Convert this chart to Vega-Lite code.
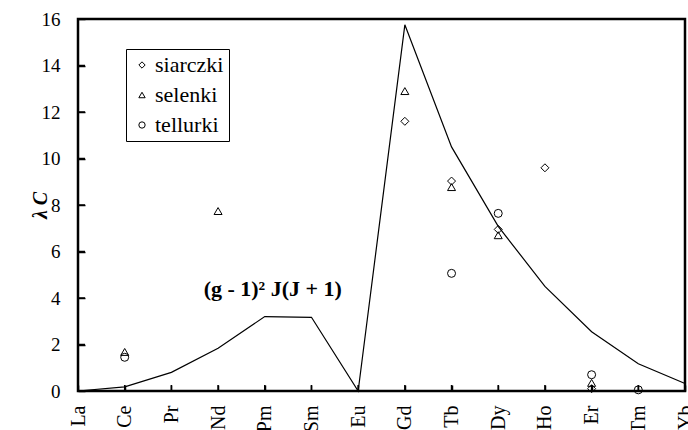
{
  "$schema": "https://vega.github.io/schema/vega-lite/v6.json",
  "width": 607,
  "height": 372,
  "autosize": {"type": "none"},
  "padding": {"left": 78, "top": 19, "right": 3, "bottom": 39},
  "background": "white",
  "config": {
    "view": {"stroke": "black", "strokeWidth": 2.5},
    "font": "Liberation Serif",
    "style": {
      "guide-label": {"font": "Liberation Serif", "fill": "black"},
      "guide-title": {"font": "Liberation Serif", "fill": "black"}
    },
    "axis": {
      "domain": false,
      "labelColor": "black",
      "labelFont": "Liberation Serif",
      "titleFont": "Liberation Serif",
      "grid": false,
      "titleColor": "black"
    },
    "legend": {"labelFont": "Liberation Serif"}
  },
  "datasets": {
    "line": [
      {"el": "La", "v": 0},
      {"el": "Ce", "v": 0.18},
      {"el": "Pr", "v": 0.8},
      {"el": "Nd", "v": 1.84},
      {"el": "Pm", "v": 3.2},
      {"el": "Sm", "v": 3.17},
      {"el": "Eu", "v": 0},
      {"el": "Gd", "v": 15.75},
      {"el": "Tb", "v": 10.5},
      {"el": "Dy", "v": 7.08},
      {"el": "Ho", "v": 4.5},
      {"el": "Er", "v": 2.55},
      {"el": "Tm", "v": 1.17},
      {"el": "Yb", "v": 0.32}
    ],
    "pts": [
      {"el": "Ce", "s": "selenki", "v": 1.68},
      {"el": "Ce", "s": "tellurki", "v": 1.45},
      {"el": "Nd", "s": "selenki", "v": 7.74},
      {"el": "Gd", "s": "selenki", "v": 12.9},
      {"el": "Gd", "s": "siarczki", "v": 11.6},
      {"el": "Tb", "s": "siarczki", "v": 9.03},
      {"el": "Tb", "s": "selenki", "v": 8.77},
      {"el": "Tb", "s": "tellurki", "v": 5.06},
      {"el": "Dy", "s": "tellurki", "v": 7.64},
      {"el": "Dy", "s": "siarczki", "v": 6.95},
      {"el": "Dy", "s": "selenki", "v": 6.7},
      {"el": "Ho", "s": "siarczki", "v": 9.6},
      {"el": "Er", "s": "tellurki", "v": 0.7},
      {"el": "Er", "s": "selenki", "v": 0.35},
      {"el": "Er", "s": "siarczki", "v": 0.1},
      {"el": "Tm", "s": "tellurki", "v": 0.05}
    ],
    "yticks": [
      {"t": 2}, {"t": 4}, {"t": 6}, {"t": 8}, {"t": 10}, {"t": 12}, {"t": 14}
    ]
  },
  "layer": [
    {
      "data": {"name": "line"},
      "mark": {"type": "line", "color": "black", "strokeWidth": 1.2},
      "encoding": {
        "x": {
          "field": "el",
          "type": "ordinal",
          "sort": null,
          "scale": {"type": "point", "padding": 0, "domain": ["La","Ce","Pr","Nd","Pm","Sm","Eu","Gd","Tb","Dy","Ho","Er","Tm","Yb"]},
          "axis": {
            "title": null,
            "labelAngle": -90,
            "offset": -6,
            "ticks": true,
            "tickSize": 6,
            "tickColor": "black",
            "tickOpacity": 1,
            "tickWidth": 1.5,
            "labelPadding": 14,
            "labelFontSize": 20,
            "labelFont": "Liberation Serif",
            "zindex": 2
          }
        },
        "y": {
          "field": "v",
          "type": "quantitative",
          "scale": {"domain": [0, 16], "nice": false},
          "axis": {
            "values": [0, 2, 4, 6, 8, 10, 12, 14, 16],
            "offset": -7,
            "ticks": true,
            "tickSize": 7,
            "tickColor": "black",
            "tickOpacity": 1,
            "tickWidth": 1.5,
            "zindex": 2,
            "labelFont": "Liberation Serif",
            "labelFontSize": 19,
            "labelPadding": 18,
            "title": "λ C",
            "titleFont": "Liberation Serif",
            "titleFontSize": 20,
            "titleFontWeight": "bold",
            "titleFontStyle": "italic",
            "titlePadding": -9
          }
        }
      }
    },
    {
      "data": {"name": "line"},
      "mark": {"type": "tick", "orient": "vertical", "color": "black", "opacity": 1, "size": 6, "thickness": 1.5, "yOffset": -3},
      "encoding": {
        "x": {"field": "el", "type": "ordinal", "sort": null},
        "y": {"datum": 0, "type": "quantitative"}
      }
    },
    {
      "data": {"name": "yticks"},
      "mark": {"type": "tick", "orient": "horizontal", "color": "black", "opacity": 1, "size": 7, "thickness": 1.5, "xOffset": 3.5},
      "encoding": {
        "x": {"datum": "La", "type": "ordinal"},
        "y": {"field": "t", "type": "quantitative"}
      }
    },
    {
      "data": {"name": "pts"},
      "mark": {"type": "point", "filled": false, "color": "black", "strokeWidth": 1, "size": 64, "opacity": 1},
      "encoding": {
        "x": {"field": "el", "type": "ordinal", "sort": null},
        "y": {"field": "v", "type": "quantitative"},
        "shape": {
          "field": "s",
          "type": "nominal",
          "scale": {"domain": ["siarczki", "selenki", "tellurki"], "range": ["diamond", "triangle-up", "circle"]},
          "legend": {
            "title": null,
            "orient": "none",
            "legendX": 48,
            "legendY": 30,
            "strokeColor": "black",
            "fillColor": "white",
            "padding": 5,
            "labelFont": "Liberation Serif",
            "labelFontSize": 22,
            "labelColor": "black",
            "symbolSize": 40,
            "symbolStrokeColor": "black",
            "symbolFillColor": "transparent",
            "symbolStrokeWidth": 1,
            "rowPadding": 8,
            "labelOffset": 2
          }
        }
      }
    },
    {
      "data": {"values": [{"el": "Pm", "v": 4.4, "t": "(g - 1)² J(J + 1)"}]},
      "mark": {"type": "text", "font": "Liberation Serif", "fontWeight": "bold", "fontSize": 22, "dx": 8, "align": "center", "baseline": "middle", "color": "black"},
      "encoding": {
        "x": {"field": "el", "type": "ordinal", "sort": null},
        "y": {"field": "v", "type": "quantitative"},
        "text": {"field": "t"}
      }
    }
  ]
}
